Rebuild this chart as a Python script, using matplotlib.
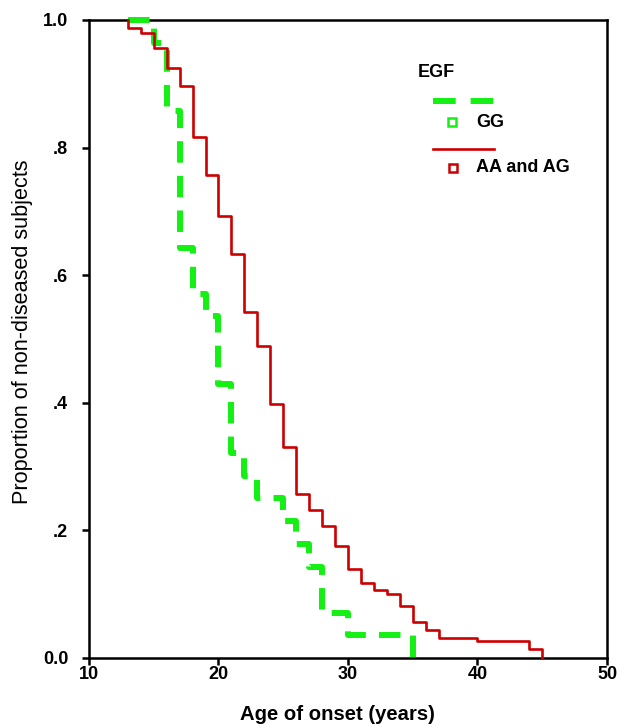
import matplotlib
matplotlib.use("Agg")
import matplotlib.pyplot as plt

plt.rcParams["font.family"] = ["Liberation Sans", "DejaVu Sans"]

# survival curves: event ages and proportion left afterwards
start_age = 13
gg_ages = [15, 16, 17, 18, 19, 20, 21, 22, 23, 25, 26, 27, 28, 30, 35]
gg_surv = [0.964, 0.857, 0.643, 0.571, 0.536, 0.429, 0.321, 0.286, 0.250,
           0.214, 0.179, 0.143, 0.071, 0.036, 0.0]
aa_ages = [13, 14, 15, 16, 17, 18, 19, 20, 21, 22, 23, 24, 25, 26, 27, 28,
           29, 30, 31, 32, 33, 34, 35, 36, 37, 40, 44, 45]
aa_surv = [0.987, 0.980, 0.956, 0.924, 0.897, 0.817, 0.757, 0.693, 0.633,
           0.543, 0.489, 0.398, 0.331, 0.257, 0.232, 0.207, 0.175, 0.139,
           0.117, 0.107, 0.100, 0.082, 0.057, 0.044, 0.032, 0.027, 0.014, 0.0]

x_ticks = [10, 20, 30, 40, 50]
y_ticks = [0.0, 0.2, 0.4, 0.6, 0.8, 1.0]
y_tick_labels = ["0.0", ".2", ".4", ".6", ".8", "1.0"]

green = "#14f014"
red = "#cc0000"
dash = (0, (3.6, 2.2))

fig = plt.figure(figsize=(6.17, 7.24), dpi=100)
ax = fig.add_axes([0.1442, 0.0912, 0.8396, 0.8812])

ax.step([start_age] + gg_ages, [1.0] + gg_surv, where="post", color=green,
        linewidth=4.3, linestyle=dash, clip_on=False, zorder=3)
ax.step([start_age] + aa_ages, [1.0] + aa_surv, where="post", color=red,
        linewidth=1.9, clip_on=False, zorder=4)

ax.set_xlim(10, 50)
ax.set_ylim(0, 1)
ax.set_xticks(x_ticks)
ax.set_yticks(y_ticks)
ax.set_yticklabels(y_tick_labels)
for s in ax.spines.values():
    s.set_linewidth(1.8)
ax.tick_params(axis="both", direction="out", length=5, width=1.8, labelsize=13)
ax.tick_params(axis="y", pad=10)
ax.tick_params(axis="x", pad=0.5)
for lab in ax.get_xticklabels() + ax.get_yticklabels():
    lab.set_fontweight("bold")

ax.set_xlabel("Age of onset (years)", fontsize=14.6, fontweight="bold")
ax.xaxis.set_label_coords(0.48, -0.073)
ax.set_ylabel("Proportion of non-diseased subjects", fontsize=15.6)
ax.yaxis.set_label_coords(-0.108, 0.511)

# SPSS-style legend
ax.text(0.635, 0.917, "EGF", transform=ax.transAxes, fontsize=13,
        fontweight="bold", va="center")
ax.plot([0.664, 0.782], [0.873, 0.873], transform=ax.transAxes, color=green,
        linewidth=4.3, linestyle=(0, (3.8, 2.5)))
ax.plot([0.701], [0.840], transform=ax.transAxes, marker="s", markersize=6,
        markerfacecolor="white", markeredgecolor=green, markeredgewidth=1.8)
ax.text(0.747, 0.840, "GG", transform=ax.transAxes, fontsize=13,
        fontweight="bold", va="center")
ax.plot([0.664, 0.782], [0.798, 0.798], transform=ax.transAxes, color=red,
        linewidth=1.9)
ax.plot([0.703], [0.768], transform=ax.transAxes, marker="s", markersize=6,
        markerfacecolor="white", markeredgecolor=red, markeredgewidth=1.8)
ax.text(0.747, 0.768, "AA and AG", transform=ax.transAxes, fontsize=13,
        fontweight="bold", va="center")

fig.savefig("out.png", dpi=100)
